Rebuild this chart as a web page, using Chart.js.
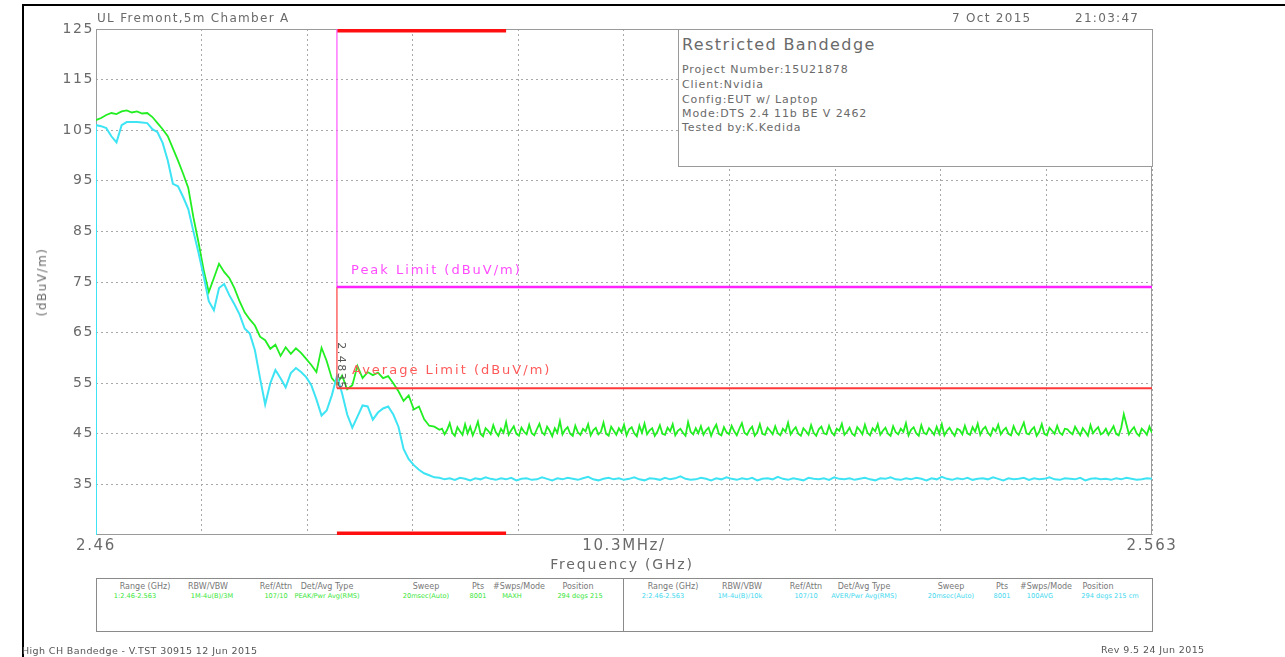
<!DOCTYPE html>
<html><head><meta charset="utf-8">
<script src="https://cdn.jsdelivr.net/npm/chart.js@4.4.1/dist/chart.umd.min.js"></script>
<style>
html,body{margin:0;padding:0;background:#fff;}
body{width:1285px;height:657px;position:relative;overflow:hidden;font-family:"DejaVu Sans",sans-serif;}
#c{position:absolute;left:0;top:0;}
.t{position:absolute;white-space:nowrap;color:#6a6a6a;line-height:1;}
.frameTop{position:absolute;left:22px;top:4px;width:1263px;height:2px;background:#000;}
.frameLeft{position:absolute;left:22px;top:4px;width:2px;height:653px;background:#000;}
#info{position:absolute;left:678px;top:29px;width:473px;height:136px;border:1px solid #9a9a9a;background:#fff;}
#tbl{position:absolute;left:96px;top:578px;width:1055px;height:52px;border:1px solid #8a8a8a;background:#fff;}
#tblDiv{position:absolute;left:623px;top:578px;width:1px;height:53px;background:#8a8a8a;}
.h{position:absolute;font-size:8px;color:#777;transform:translateX(-50%);white-space:nowrap;line-height:1;}
.vg{position:absolute;font-size:6.6px;color:#39e639;transform:translateX(-50%);white-space:nowrap;line-height:1;}
.vc{position:absolute;font-size:6.6px;color:#3fd8ee;transform:translateX(-50%);white-space:nowrap;line-height:1;}
</style></head><body>
<canvas id="c" width="1285" height="657"></canvas>
<div class="frameTop"></div><div class="frameLeft"></div>

<div class="t" style="left:97px;top:12px;font-size:12px;letter-spacing:1.3px;">UL Fremont,5m Chamber A</div>
<div class="t" style="left:952px;top:12px;font-size:12px;letter-spacing:1.3px;">7 Oct 2015</div>
<div class="t" style="left:1075px;top:12px;font-size:12px;letter-spacing:1.3px;">21:03:47</div>

<div id="info">
  <div class="t" style="left:3px;top:7px;font-size:16px;letter-spacing:1.4px;">Restricted Bandedge</div>
  <div class="t" style="left:3px;top:34px;font-size:11px;letter-spacing:0.9px;">Project Number:15U21878</div>
  <div class="t" style="left:3px;top:49px;font-size:11px;letter-spacing:0.9px;">Client:Nvidia</div>
  <div class="t" style="left:3px;top:64px;font-size:11px;letter-spacing:0.9px;">Config:EUT w/ Laptop</div>
  <div class="t" style="left:3px;top:78px;font-size:11px;letter-spacing:0.9px;">Mode:DTS 2.4 11b BE V 2462</div>
  <div class="t" style="left:3px;top:92px;font-size:11px;letter-spacing:0.9px;">Tested by:K.Kedida</div>
</div>

<div class="t" style="left:351px;top:263px;font-size:13px;letter-spacing:2px;color:#ff4cff;">Peak Limit (dBuV/m)</div>
<div class="t" style="left:352px;top:363px;font-size:13px;letter-spacing:2px;color:#ff5a5a;">Average Limit (dBuV/m)</div>
<div class="t" style="left:341px;top:366px;font-size:11px;letter-spacing:1.5px;color:#555;transform:translate(-50%,-50%) rotate(90deg);">2.4835</div>

<div class="t" style="left:42px;top:282px;font-size:12px;letter-spacing:1.5px;transform:translate(-50%,-50%) rotate(-90deg);">(dBuV/m)</div>
<div class="t" style="left:622px;top:557px;font-size:14px;letter-spacing:1.8px;transform:translateX(-50%);">Frequency (GHz)</div>

<div id="tbl"></div><div id="tblDiv"></div>
<div class="h" style="left:145px;top:583px;">Range (GHz)</div>
<div class="h" style="left:208px;top:583px;">RBW/VBW</div>
<div class="h" style="left:276px;top:583px;">Ref/Attn</div>
<div class="h" style="left:327px;top:583px;">Det/Avg Type</div>
<div class="h" style="left:426px;top:583px;">Sweep</div>
<div class="h" style="left:478px;top:583px;">Pts</div>
<div class="h" style="left:519px;top:583px;">#Swps/Mode</div>
<div class="h" style="left:578px;top:583px;">Position</div>
<div class="vg" style="left:135px;top:593px;">1:2.46-2.563</div>
<div class="vg" style="left:212px;top:593px;">1M-4u(B)/3M</div>
<div class="vg" style="left:276px;top:593px;">107/10</div>
<div class="vg" style="left:327px;top:593px;">PEAK/Pwr Avg(RMS)</div>
<div class="vg" style="left:426px;top:593px;">20msec(Auto)</div>
<div class="vg" style="left:478px;top:593px;">8001</div>
<div class="vg" style="left:512px;top:593px;">MAXH</div>
<div class="vg" style="left:580px;top:593px;">294 degs 215</div>
<div class="h" style="left:673px;top:583px;">Range (GHz)</div>
<div class="h" style="left:742px;top:583px;">RBW/VBW</div>
<div class="h" style="left:806px;top:583px;">Ref/Attn</div>
<div class="h" style="left:864px;top:583px;">Det/Avg Type</div>
<div class="h" style="left:951px;top:583px;">Sweep</div>
<div class="h" style="left:1002px;top:583px;">Pts</div>
<div class="h" style="left:1046px;top:583px;">#Swps/Mode</div>
<div class="h" style="left:1098px;top:583px;">Position</div>
<div class="vc" style="left:663px;top:593px;">2:2.46-2.563</div>
<div class="vc" style="left:740px;top:593px;">1M-4u(B)/10k</div>
<div class="vc" style="left:806px;top:593px;">107/10</div>
<div class="vc" style="left:864px;top:593px;">AVER/Pwr Avg(RMS)</div>
<div class="vc" style="left:951px;top:593px;">20msec(Auto)</div>
<div class="vc" style="left:1002px;top:593px;">8001</div>
<div class="vc" style="left:1040px;top:593px;">100AVG</div>
<div class="vc" style="left:1110px;top:593px;">294 degs 215 cm</div>

<div class="t" style="left:22px;top:646px;font-size:9.5px;letter-spacing:0.4px;color:#555;">High CH Bandedge - V.TST 30915 12 Jun 2015</div>
<div class="t" style="left:1101px;top:645px;font-size:9.5px;letter-spacing:0.4px;color:#555;">Rev 9.5 24 Jun 2015</div>

<script>
// ---- axis definitions ----
const yMin = 25, yMax = 125;
const yTicks = [125, 115, 105, 95, 85, 75, 65, 55, 45, 35];
const xMin = 2.46, xMax = 2.563;
const xTickFreqs = [2.46, 2.4703, 2.4806, 2.4909, 2.5012, 2.5115, 2.5218, 2.5321, 2.5424, 2.5527, 2.563];
const xTickLabels = ['2.46', '', '', '', '', '10.3MHz/', '', '', '', '', '2.563'];

// ---- sweep grids (trace point spacing, GHz) ----
const skirtStartGHz = 2.46;
const skirtStepGHz = 0.0005;
const peakFloorStartGHz = 2.49375;
const peakFloorStepGHz = 0.00025;
const avgFloorStartGHz = 2.494;
const avgFloorStepGHz = 0.0005;

// ---- limits ----
const bandEdgeGHz = 2.4835;
const spanEndGHz = 2.563;
const restrictedBandGHz = [2.4835, 2.5];
const peakLimit = 74;
const avgLimit = 54;

// ---- trace 1: peak (green), dBuV/m ----
const peakSkirt = [
  107.0,107.4,108.0,108.4,108.2,108.7,108.9,108.5,108.7,108.3,
  108.4,107.6,106.4,105.2,103.8,101.4,99.0,96.4,93.6,87.8,
  82.8,77.4,73.0,75.8,78.6,77.0,75.8,73.8,71.2,69.0,
  67.6,66.4,64.2,63.5,61.8,62.6,60.4,62.1,60.8,61.9,
  61.0,59.8,58.6,57.2,62.0,59.4,56.0,54.8,56.5,53.8,
  54.6,58.4,56.0,57.2,56.6,57.1,56.0,56.4,55.0,53.4,
  51.5,52.6,49.8,50.4,47.9,46.6,46.4,45.8
];
const peakFloor = [
  46.0,44.9,45.8,47.1,45.2,44.6,46.3,45.5,44.8,46.9,
  45.1,46.4,44.7,45.9,47.4,45.0,44.5,46.1,45.6,44.9,
  46.7,45.3,44.6,46.0,45.2,47.3,44.8,45.7,46.5,45.0,
  44.6,46.2,45.4,44.9,46.8,45.1,44.7,45.9,47.0,45.3,
  44.8,46.4,45.6,44.5,46.1,45.2,47.5,44.9,45.8,46.3,
  45.0,44.6,46.6,45.3,44.8,46.0,45.5,46.9,44.7,45.7,
  46.2,44.9,45.4,47.2,45.0,44.6,46.4,45.6,44.8,46.1,
  45.3,46.8,44.7,45.9,46.3,45.1,44.5,46.6,45.2,47.0,
  44.9,45.7,46.1,44.6,45.4,46.7,45.0,44.8,46.2,45.5,
  46.9,44.7,45.6,46.0,45.2,44.6,47.3,45.4,44.9,46.1,
  45.1,46.5,44.8,45.7,46.2,44.6,45.9,46.8,45.0,44.7,
  46.3,45.3,44.9,46.6,45.5,44.7,46.0,47.1,45.2,44.8,
  45.8,46.4,44.6,45.3,46.9,45.0,44.8,46.2,45.6,44.9,
  46.5,45.1,44.7,46.0,45.4,47.2,44.9,45.7,46.3,45.0,
  44.6,46.1,45.5,44.8,46.7,45.2,44.6,45.9,46.4,45.1,
  44.9,46.6,45.3,44.7,46.0,45.6,47.0,44.8,45.4,46.2,
  45.0,44.6,46.3,45.7,44.9,46.8,45.2,44.7,46.1,45.5,
  46.9,44.8,45.6,46.2,45.0,44.6,46.5,45.3,44.9,46.0,
  45.4,47.1,44.7,45.8,46.3,45.1,44.6,46.7,45.2,44.9,
  46.1,45.5,44.8,46.4,45.0,46.9,44.7,45.6,46.2,45.3,
  44.6,46.0,45.7,44.9,46.6,45.1,44.8,46.3,45.4,47.0,
  44.8,45.9,46.4,45.2,44.6,46.1,45.5,46.8,44.9,45.7,
  46.2,45.0,44.7,46.5,45.3,44.8,46.0,47.2,45.1,44.9,
  45.8,46.3,44.6,45.4,46.9,45.0,44.7,46.2,45.6,45.0,
  46.6,45.2,44.8,46.0,45.9,45.3,44.9,46.4,45.5,44.7,
  46.1,45.4,44.6,46.7,45.1,45.8,46.3,44.9,45.2,46.0,
  44.8,45.6,46.5,45.0,44.7,46.2,48.9,46.9,44.9,45.7,
  46.3,45.1,44.6,46.0,45.5,44.8,46.4,45.2
];

// ---- trace 2: average (cyan), dBuV/m ----
const avgSweepFloor = 25;
const avgSkirt = [
  106.0,105.8,105.4,103.8,102.6,106.0,106.6,106.6,106.6,106.5,
  106.4,105.2,104.6,102.5,99.0,94.4,93.9,91.8,89.4,85.0,
  80.8,76.2,71.2,69.4,73.8,74.6,72.4,70.6,68.6,65.8,
  64.8,61.5,56.0,50.8,55.0,57.6,56.0,54.2,57.0,58.0,
  57.2,56.2,54.6,51.8,48.6,49.6,52.6,56.4,53.0,48.8,
  46.2,48.4,50.6,50.4,47.8,49.2,50.0,50.4,48.8,46.4,
  42.0,40.0,38.8,37.9,37.2,36.8,36.4,36.3
];
const avgFloor = [
  36.0,36.2,35.9,36.3,36.1,35.8,36.2,36.0,36.4,36.1,
  35.9,36.2,36.0,36.3,35.8,36.1,36.2,35.9,36.0,36.4,
  36.1,35.8,36.2,36.0,36.3,36.1,35.9,36.2,36.5,36.0,
  35.8,36.1,36.3,36.0,36.2,35.9,36.1,36.4,36.0,35.8,
  36.2,36.1,35.9,36.3,36.0,36.2,36.6,36.1,35.9,36.0,
  36.3,36.1,35.8,36.2,36.0,36.4,36.1,35.9,36.2,36.0,
  36.3,35.8,36.1,36.2,36.0,36.5,36.1,35.9,36.2,36.0,
  35.8,36.3,36.1,36.0,36.2,35.9,36.4,36.1,36.0,36.2,
  35.9,36.1,36.3,36.0,35.8,36.2,36.1,36.4,36.0,35.9,
  36.2,36.0,36.3,36.1,35.8,36.2,36.0,36.5,36.1,35.9,
  36.2,36.0,36.3,35.9,36.1,36.2,36.0,36.4,36.1,35.8,
  36.2,36.0,36.1,36.3,35.9,36.2,36.0,36.1,36.4,36.0,
  35.9,36.2,36.1,36.0,36.3,35.8,36.1,36.2,36.0,36.1,
  35.9,36.2,36.0,36.3,36.1,35.9,36.0,36.2,36.1
];

// ---- build datasets ----
const toPoints = (vals, start, step) => vals.map((v, i) => ({ x: start + i * step, y: v }));
const peakPts = toPoints(peakSkirt, skirtStartGHz, skirtStepGHz)
  .concat(toPoints(peakFloor, peakFloorStartGHz, peakFloorStepGHz));
const avgPts = [{ x: skirtStartGHz, y: avgSweepFloor }]
  .concat(toPoints(avgSkirt, skirtStartGHz, skirtStepGHz))
  .concat(toPoints(avgFloor, avgFloorStartGHz, avgFloorStepGHz));

const line = (data, color, width) => ({
  data, borderColor: color, borderWidth: width, pointRadius: 0, tension: 0, fill: false
});

const framePlugin = {
  id: 'frame',
  beforeDraw(chart) { chart.ctx.letterSpacing = '1.6px'; },
  beforeDatasetsDraw(chart) {
    const { ctx, chartArea: a } = chart;
    ctx.save();
    ctx.strokeStyle = '#9a9a9a';
    ctx.lineWidth = 1;
    ctx.setLineDash([]);
    ctx.strokeRect(a.left + 0.5, a.top + 0.5, a.right - a.left - 1, a.bottom - a.top - 1);
    ctx.restore();
  }
};

new Chart(document.getElementById('c'), {
  type: 'line',
  data: {
    datasets: [
      line([{ x: bandEdgeGHz, y: peakLimit }, { x: spanEndGHz, y: peakLimit }], '#ff22ff', 2.5),
      line([{ x: bandEdgeGHz, y: yMax }, { x: bandEdgeGHz, y: peakLimit }], '#ff55ff', 1.2),
      line([{ x: bandEdgeGHz, y: avgLimit }, { x: spanEndGHz, y: avgLimit }], '#ff3838', 2),
      line([{ x: bandEdgeGHz, y: peakLimit }, { x: bandEdgeGHz, y: avgLimit }], '#ff4040', 1.2),
      line([{ x: restrictedBandGHz[0], y: yMax }, { x: restrictedBandGHz[1], y: yMax }], '#ff1010', 7),
      line([{ x: restrictedBandGHz[0], y: yMin }, { x: restrictedBandGHz[1], y: yMin }], '#ff1010', 7),
      line(avgPts, '#3ee4f4', 2),
      line(peakPts, '#22ee22', 1.8)
    ]
  },
  options: {
    responsive: false,
    animation: false,
    events: [],
    layout: { padding: { left: 0, top: 29, right: 133, bottom: 0 } },
    plugins: { legend: { display: false }, tooltip: { enabled: false } },
    scales: {
      x: {
        type: 'linear', min: xMin, max: xMax,
        afterBuildTicks: ax => { ax.ticks = xTickFreqs.map(v => ({ value: v })); },
        afterFit: ax => { ax.height = 122; },
        ticks: {
          autoSkip: false, maxRotation: 0, padding: 2,
          color: '#6a6a6a', font: { family: 'DejaVu Sans', size: 15 },
          callback: (v, i) => xTickLabels[i]
        },
        grid: { color: '#a8a8a8', lineWidth: 1, drawTicks: false },
        border: { display: false, dash: [2, 3] }
      },
      y: {
        type: 'linear', min: yMin, max: yMax,
        afterBuildTicks: ax => { ax.ticks = yTicks.map(v => ({ value: v })); },
        afterFit: ax => { ax.width = 96; },
        ticks: {
          padding: 2, color: '#6a6a6a', font: { family: 'DejaVu Sans', size: 14 },
          callback: v => String(v)
        },
        grid: { color: '#a8a8a8', lineWidth: 1, drawTicks: false },
        border: { display: false, dash: [2, 3] }
      }
    }
  },
  plugins: [framePlugin]
});
</script>
</body></html>
